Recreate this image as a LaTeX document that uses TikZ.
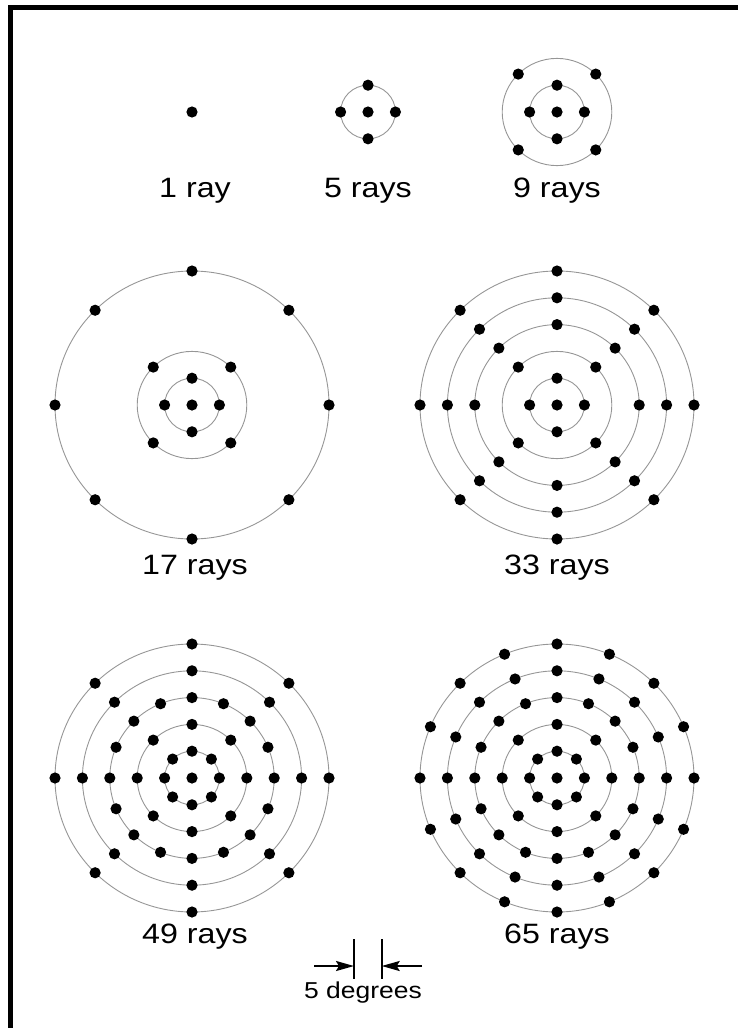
\documentclass[tikz,border=0pt]{standalone}
\usepackage{fontspec}
\setmainfont{Liberation Sans}
\newfontfamily\rayfont[FakeStretch=1.15]{Liberation Sans}
\usetikzlibrary{
	arrows.meta
}
\definecolor{RingGray}{RGB}{150,150,150}
\tikzset{
	frame/.style={line width=2.5pt, line join=miter},
	ring/.style={draw=RingGray, line width=0.45pt},
	raydot/.style={radius=2.8pt},
	raygrid/.style={x=13.7pt, y=13.4pt},
	raylabel/.style={anchor=base, font=\rayfont\fontsize{14}{16}\selectfont},
	degtick/.style={line width=1pt},
	degarrow/.style={line width=1pt, -{Stealth[length=9pt, width=5pt, inset=1.5pt]}},
	deglabel/.style={anchor=base, font=\rayfont\fontsize{11.5}{13}\selectfont}
}
\newcommand{\rayring}[2]{%
	\draw[ring] (0,0) circle[radius=#1];
	\foreach \a in {#2} \fill (\a:#1) circle[raydot];
}
\begin{document}
\begin{tikzpicture}[x=0.5pt, y=-0.5pt]
	
	\useasboundingbox (0,0) rectangle (738,1028);
	\draw[frame] (10.5,1040) -- (10.5,7) -- (745,7);
	
	\begin{scope}[shift={(192,112)}, raygrid]
		\fill (0,0) circle[raydot];
	\end{scope}
	
	\begin{scope}[shift={(368,112)}, raygrid]
		\fill (0,0) circle[raydot];
		\rayring{1}{0,90,...,270}
	\end{scope}
	
	\begin{scope}[shift={(557,112)}, raygrid]
		\fill (0,0) circle[raydot];
		\rayring{1}{0,90,...,270}
		\rayring{2}{45,135,...,315}
	\end{scope}
	
	\begin{scope}[shift={(192,405)}, raygrid]
		\fill (0,0) circle[raydot];
		\rayring{1}{0,90,...,270}
		\rayring{2}{45,135,...,315}
		\rayring{5}{0,45,...,315}
	\end{scope}
	
	\begin{scope}[shift={(557,405)}, raygrid]
		\fill (0,0) circle[raydot];
		\rayring{1}{0,90,...,270}
		\rayring{2}{45,135,...,315}
		\rayring{3}{0,45,...,315}
		\rayring{4}{0,45,...,315}
		\rayring{5}{0,45,...,315}
	\end{scope}
	
	\begin{scope}[shift={(192,778)}, raygrid]
		\fill (0,0) circle[raydot];
		\rayring{1}{0,45,...,315}
		\rayring{2}{0,45,...,315}
		\rayring{3}{0,22.5,...,337.5}
		\rayring{4}{0,45,...,315}
		\rayring{5}{0,45,...,315}
	\end{scope}
	
	\begin{scope}[shift={(557,778)}, raygrid]
		\fill (0,0) circle[raydot];
		\rayring{1}{0,45,...,315}
		\rayring{2}{0,45,...,315}
		\rayring{3}{0,22.5,...,337.5}
		\rayring{4}{0,22.5,...,337.5}
		\rayring{5}{0,22.5,...,337.5}
	\end{scope}
	
	\node[raylabel] (lab1) at (195,197) {1 ray};
	\node[raylabel] (lab5) at (368,197) {5 rays};
	\node[raylabel] (lab9) at (557,197) {9 rays};
	\node[raylabel] (lab17) at (195,574) {17 rays};
	\node[raylabel] (lab33) at (557,574) {33 rays};
	\node[raylabel] (lab49) at (195,943) {49 rays};
	\node[raylabel] (lab65) at (557,943) {65 rays};
	
	\coordinate (tickLtop) at (354,939);
	\coordinate (tickLbot) at (354,979);
	\coordinate (tickRtop) at (381.7,939);
	\coordinate (tickRbot) at (381.7,979);
	\coordinate (tickL) at (354,966);
	\coordinate (tickR) at (381.7,966);
	\coordinate (arrL) at (314,966);
	\coordinate (arrR) at (422,966);
	
	\draw[degtick] (tickLtop) -- (tickLbot);
	\draw[degtick] (tickRtop) -- (tickRbot);
	\draw[degarrow] (arrL) -- (tickL);
	\draw[degarrow] (arrR) -- (tickR);
	\node[deglabel] (deg) at (363,998) {5 degrees};
	
\end{tikzpicture}
\end{document}
